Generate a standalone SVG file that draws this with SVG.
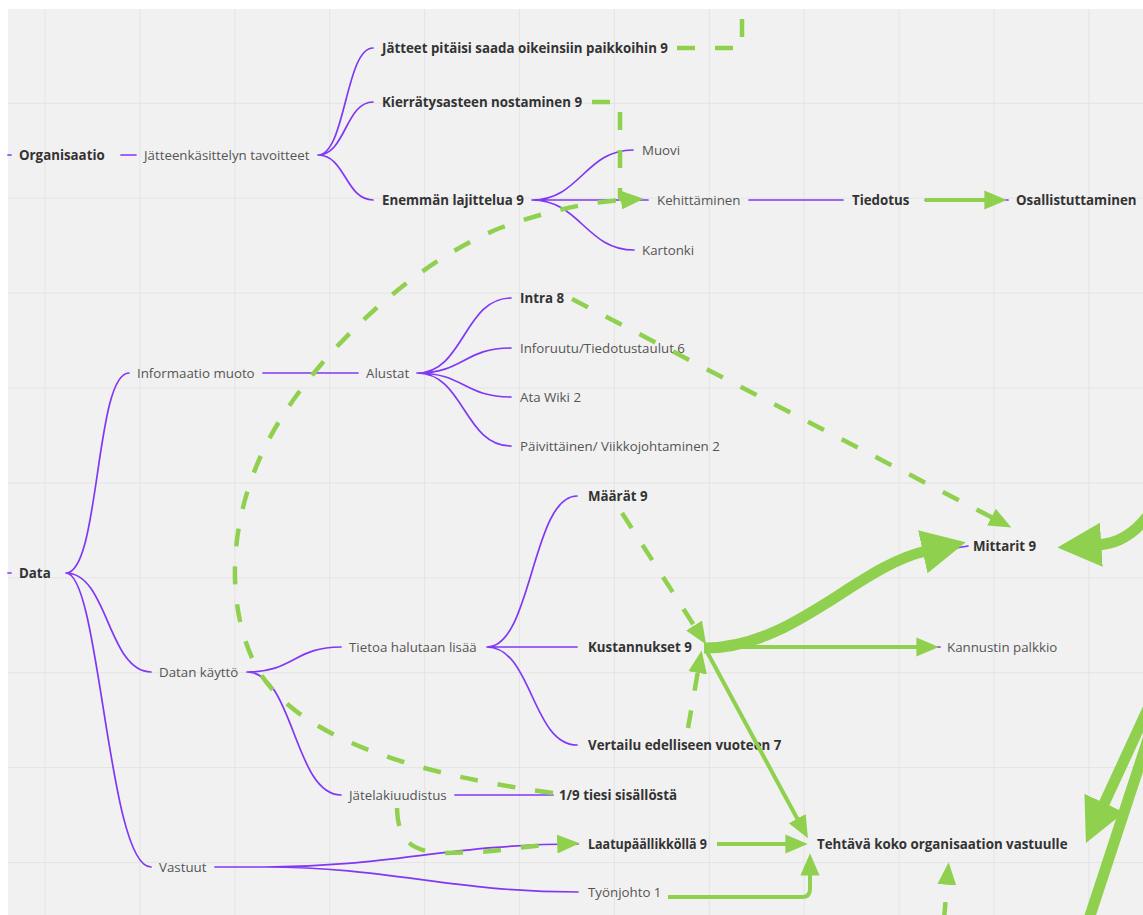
<svg xmlns="http://www.w3.org/2000/svg" width="1143" height="915" viewBox="0 0 1143 915">
<defs>
<style>
.t{font-family:"Open Sans","Noto Sans","Liberation Sans",sans-serif;font-size:13.3px;fill:#555}
.b{font-weight:700;fill:#333}
.p{fill:none;stroke:#8237f4;stroke-width:1.7;stroke-linecap:round}
.g{fill:none;stroke:#8fd14f;stroke-width:4}
.d{stroke-width:4.5;stroke-dasharray:18 20}
.k{stroke-width:11}
.grid{fill:none;stroke:#e4e4e4;stroke-width:1}
</style>
<marker id="ah" viewBox="0 -3 6 6" markerWidth="6" markerHeight="6" refX="0.4" refY="0" orient="auto" markerUnits="strokeWidth"><path d="M0,-2.4L5.6,0L0,2.4z" fill="#8fd14f"/></marker>
<marker id="ahd" viewBox="0 -3 6 6" markerWidth="6" markerHeight="6" refX="0.4" refY="0" orient="auto" markerUnits="strokeWidth"><path d="M0,-2.1L5,0L0,2.1z" fill="#8fd14f"/></marker>
<marker id="ahb" viewBox="0 -3 6 6" markerWidth="6" markerHeight="6" refX="0.3" refY="0" orient="auto" markerUnits="strokeWidth"><path d="M0,-2L4,0L0,2z" fill="#8fd14f"/></marker>
<clipPath id="cv"><rect x="8" y="9" width="1135" height="906"/></clipPath>
</defs>

<!-- board -->
<rect width="1143" height="915" fill="#fff"/>
<rect x="8" y="9" width="1135" height="906" fill="#f1f1f1"/>
<path class="grid" d="M45 9V915M139.9 9V915M234.8 9V915M329.7 9V915M424.6 9V915M519.5 9V915M614.4 9V915M709.3 9V915M804.2 9V915M899.1 9V915M994 9V915M1088.9 9V915M8 103.3H1143M8 198.2H1143M8 293.1H1143M8 388H1143M8 482.9H1143M8 577.8H1143M8 672.7H1143M8 767.6H1143M8 862.5H1143"/>

<!-- mind map branches -->
<g id="branches">
<path class="p" d="M8 155H11M121 155H136"/>
<path class="p" d="M318 155C345.5 155 345.5 48 373 48M318 155C345.5 155 345.5 102 373 102M318 155C345.5 155 345.5 200 373 200"/>
<path class="p" d="M532 200C580 200 585 150 633 150M532 200H648M532 200C580 200 586 250 634 250"/>
<path class="p" d="M749 200H843M925 200H1008"/>
<path class="p" d="M8 573H11"/>
<path class="p" d="M66 573C100 573 95 373 129 373M66 573C108 573 108 672 151 672M66 573C100 573 108 867 151 867"/>
<path class="p" d="M263 373H358"/>
<path class="p" d="M417 373C464 373 464 298 511 298M417 373C464 373 464 348 511 348M417 373C464 373 464 397 511 397M417 373C464 373 464 446 511 446"/>
<path class="p" d="M247 672C294 672 294 647 341 647M247 672C294 672 294 795 341 795"/>
<path class="p" d="M487 647C532 647 532 496 577 496M487 647H577M487 647C532 647 532 745 577 745"/>
<path class="p" d="M455 795H553"/>
<path class="p" d="M215 867H265C390 867 450 844 578 844M265 867C390 867 450 892 578 892"/>
<path class="p" d="M706 649C792 650 858 568 926 553L968 546M706 647H940"/>
</g>

<!-- nodes -->
<g id="n-organisaatio"><text class="t b" x="19" y="160">Organisaatio</text></g>
<g id="n-tavoitteet"><text class="t" x="144" y="160">Jätteenkäsittelyn tavoitteet</text></g>
<g id="n-jatteet"><text class="t b" x="382" y="53">Jätteet pitäisi saada oikeinsiin paikkoihin 9</text></g>
<g id="n-kierratys"><text class="t b" x="382" y="107">Kierrätysasteen nostaminen 9</text></g>
<g id="n-lajittelu"><text class="t b" x="382" y="205">Enemmän lajittelua 9</text></g>
<g id="n-muovi"><text class="t" x="642" y="155">Muovi</text></g>
<g id="n-kehittaminen"><text class="t" x="657" y="205">Kehittäminen</text></g>
<g id="n-kartonki"><text class="t" x="642" y="255">Kartonki</text></g>
<g id="n-tiedotus"><text class="t b" x="852" y="205">Tiedotus</text></g>
<g id="n-osallistuttaminen"><text class="t b" x="1016" y="205">Osallistuttaminen</text></g>
<g id="n-data"><text class="t b" x="19" y="578">Data</text></g>
<g id="n-informaatio"><text class="t" x="137" y="378">Informaatio muoto</text></g>
<g id="n-alustat"><text class="t" x="366" y="378">Alustat</text></g>
<g id="n-intra"><text class="t b" x="520" y="303">Intra 8</text></g>
<g id="n-inforuutu"><text class="t" x="520" y="353">Inforuutu/Tiedotustaulut 6</text></g>
<g id="n-atawiki"><text class="t" x="520" y="402">Ata Wiki 2</text></g>
<g id="n-paivittainen"><text class="t" x="520" y="451">Päivittäinen/ Viikkojohtaminen 2</text></g>
<g id="n-datankaytto"><text class="t" x="159" y="677">Datan käyttö</text></g>
<g id="n-tietoa"><text class="t" x="349" y="652">Tietoa halutaan lisää</text></g>
<g id="n-maarat"><text class="t b" x="588" y="501">Määrät 9</text></g>
<g id="n-kustannukset"><text class="t b" x="588" y="652">Kustannukset 9</text></g>
<g id="n-vertailu"><text class="t b" x="588" y="750">Vertailu edelliseen vuoteen 7</text></g>
<g id="n-mittarit"><text class="t b" x="973" y="551">Mittarit 9</text></g>
<g id="n-kannustin"><text class="t" x="947" y="652">Kannustin palkkio</text></g>
<g id="n-jatelaki"><text class="t" x="349" y="800">Jätelakiuudistus</text></g>
<g id="n-tiesi"><text class="t b" x="559" y="800">1/9 tiesi sisällöstä</text></g>
<g id="n-vastuut"><text class="t" x="159" y="872">Vastuut</text></g>
<g id="n-laatu"><text class="t b" x="588" y="849" textLength="119" lengthAdjust="spacingAndGlyphs">Laatupäällikköllä 9</text></g>
<g id="n-tyonjohto"><text class="t" x="588" y="897">Työnjohto 1</text></g>
<g id="n-tehtava"><text class="t b" x="817" y="849">Tehtävä koko organisaation vastuulle</text></g>

<!-- connectors -->
<g id="connectors" clip-path="url(#cv)">
<path class="g d" d="M677 48H742V0"/>
<path class="g d" d="M592 102H620V196Q620 200 624 200"/>
<path class="g d" d="M553 793C420 775 300 740 258 670C220 600 230 500 280 420C330 340 420 260 500 228C550 210 590 202 623 200" marker-end="url(#ahd)"/>
<path class="g d" d="M572 299L993 518" marker-end="url(#ahd)"/>
<path class="g d" d="M622 513L695 627" marker-end="url(#ahd)"/>
<path class="g d" d="M688 728L698 671" marker-end="url(#ahd)"/>
<path class="g d" d="M397 808C398 840 410 852 445 853L480 852C510 850 530 845 559 844" marker-end="url(#ahd)"/>
<path class="g d" d="M944 920L947 883" marker-end="url(#ahd)"/>
<path class="g" d="M925 200H986" marker-end="url(#ah)"/>
<path class="g" d="M706 647H918" marker-end="url(#ah)"/>
<path class="g" d="M706 650L798 820" marker-end="url(#ah)"/>
<path class="g" d="M717 844H787" marker-end="url(#ah)"/>
<path class="g" d="M668 897H802Q810 897 810 889V874" marker-end="url(#ah)"/>
<path class="g k" d="M704 648C792 649 858 566 926 551" marker-end="url(#ahb)"/>
<path class="g k" d="M1152 510Q1130 543 1098 545" marker-end="url(#ahb)"/>
<path class="g k" d="M1152 700L1103 806" marker-end="url(#ahb)"/>
<path class="g k" d="M1151 730L1087 925"/>
</g>
</svg>
